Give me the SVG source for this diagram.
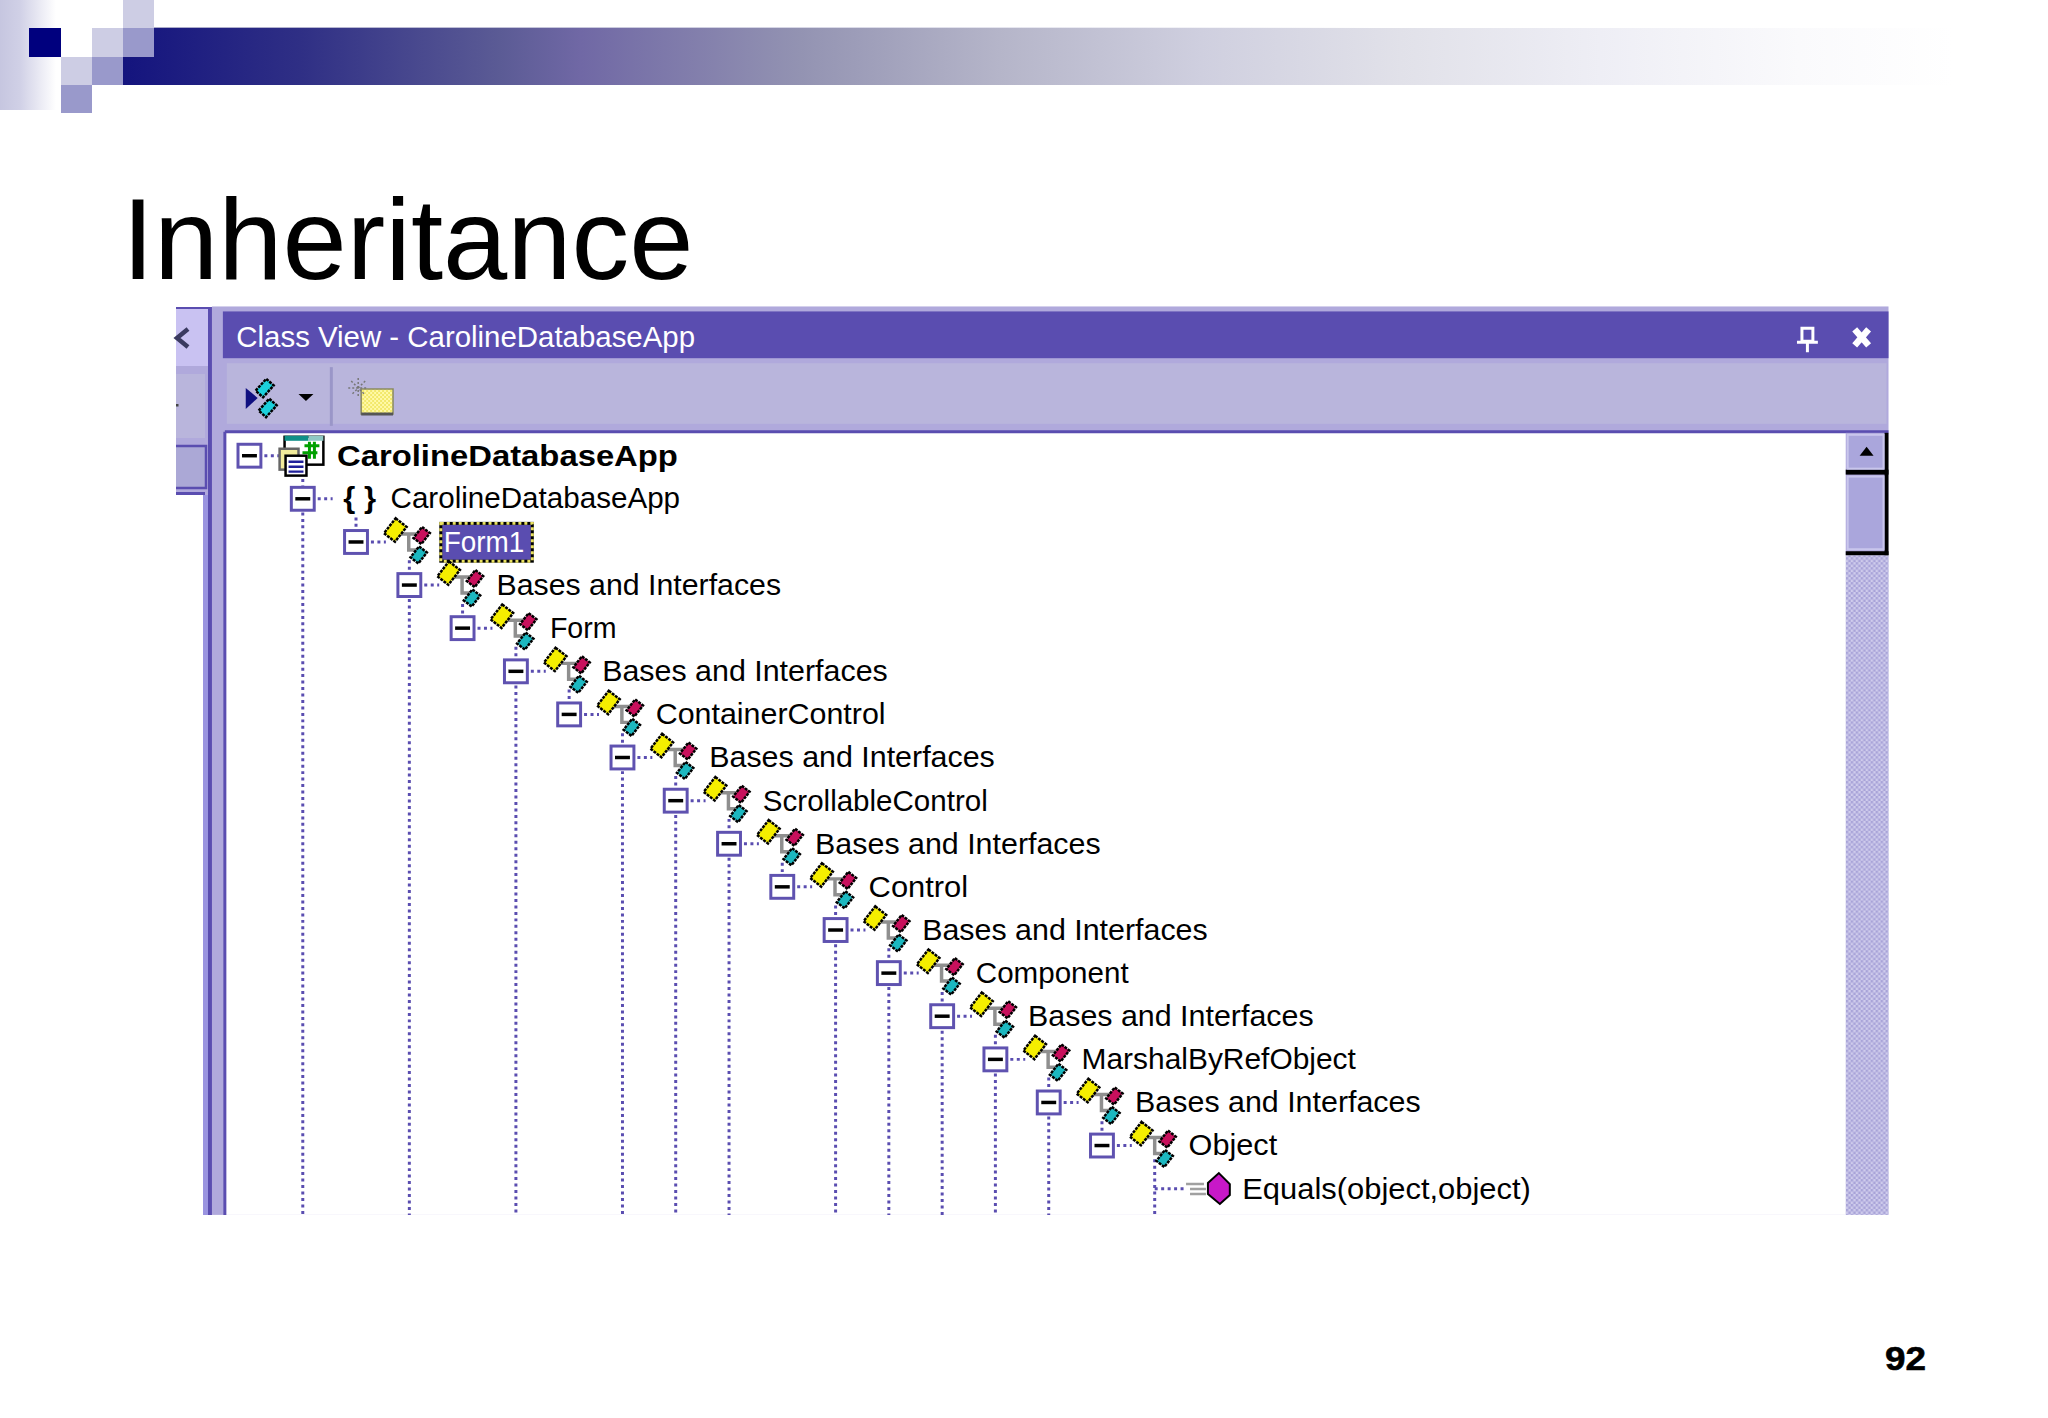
<svg xmlns="http://www.w3.org/2000/svg" width="2048" height="1418" viewBox="0 0 2048 1418">
<style>
.t{font-family:"Liberation Sans",Arial,sans-serif;font-size:30px;fill:#000}
.dot{fill:none;stroke:#5a4db0;stroke-width:3;stroke-dasharray:3 3.500}
.g{fill:none;stroke:#8f8f8f;stroke-width:3.500}
</style>
<defs>
<linearGradient id="barG" x1="0" x2="1" y1="0" y2="0">
<stop offset="0" stop-color="#14147e"/><stop offset=".097" stop-color="#2f2f85"/><stop offset=".206" stop-color="#5b5b95"/><stop offset=".25" stop-color="#7068a5"/><stop offset=".37" stop-color="#9393b2"/><stop offset=".479" stop-color="#b5b5c9"/><stop offset=".589" stop-color="#cfcfdf"/><stop offset=".698" stop-color="#e1e1e9"/><stop offset=".807" stop-color="#eeeef5"/><stop offset=".916" stop-color="#fafafc"/><stop offset="1" stop-color="#fff"/>
</linearGradient>
<linearGradient id="topG" x1="0" x2="1" y1="0" y2="0">
<stop offset="0" stop-color="#a8a8c8"/><stop offset="1" stop-color="#fff"/>
</linearGradient>
<linearGradient id="leftG" x1="0" x2="1" y1="0" y2="0">
<stop offset="0" stop-color="#c6c6e0"/><stop offset=".35" stop-color="#d0d0e6"/><stop offset="1" stop-color="#fff"/>
</linearGradient>
<pattern id="chk" width="5" height="5" patternUnits="userSpaceOnUse">
<rect width="5" height="5" fill="#cfccec"/><rect width="2.500" height="2.500" fill="#a8a3d8"/><rect x="2.500" y="2.500" width="2.500" height="2.500" fill="#a8a3d8"/>
</pattern>
<pattern id="fol" width="4" height="4" patternUnits="userSpaceOnUse">
<rect width="4" height="4" fill="#fff9a8"/><rect width="2" height="2" fill="#f2e86a"/><rect x="2" y="2" width="2" height="2" fill="#f2e86a"/>
</pattern>
<g id="exp">
<rect x="-11.500" y="-11.500" width="23" height="23" fill="#fff" stroke="#5f52b0" stroke-width="3"/>
<path d="M-7.500 0H7.500" stroke="#000" stroke-width="3.500"/>
<path d="M15 0H30" class="dot"/>
</g>
<g id="cls">
<path d="M40-8H66M53-8V8H62" class="g"/>
<g stroke="#000" stroke-width="2.500" stroke-dasharray="3 1">
<rect x="-7" y="-9.500" width="14" height="19" fill="#f5ee00" transform="translate(39.500 -12) rotate(38)"/>
<rect x="-5" y="-7" width="10" height="14" fill="#c8105c" transform="translate(66 -6.500) rotate(38)"/>
<rect x="-5" y="-7" width="10" height="14" fill="#1cb8c0" transform="translate(63 13) rotate(38)"/>
</g>
</g>
<g id="item"><use href="#exp"/><use href="#cls"/></g>
<g id="tdia"><rect x="-5" y="-8" width="10" height="16" fill="#1cd0dc" stroke="#000" stroke-width="2.500" stroke-dasharray="3 1" transform="rotate(42)"/></g>
</defs>

<rect width="2048" height="1418" fill="#fff"/>

<g id="header-art">
<rect x="0" y="0" width="56" height="110" fill="url(#leftG)"/>
<rect x="123" y="27" width="1250" height="1" fill="url(#topG)"/>
<rect x="123" y="28" width="1830" height="57" fill="url(#barG)"/>
<rect x="29" y="28" width="32" height="29" fill="#00007e"/>
<rect x="61" y="28" width="31" height="29" fill="#fff"/>
<rect x="92" y="28" width="31" height="29" fill="#cdcde4"/>
<rect x="123" y="0" width="31" height="28" fill="#cdcde4"/>
<rect x="123" y="28" width="31" height="29" fill="#9999cb"/>
<rect x="61" y="57" width="31" height="28" fill="#cdcde4"/>
<rect x="92" y="57" width="31" height="28" fill="#9999cb"/>
<rect x="61" y="85" width="31" height="28" fill="#9999cb"/>
</g>

<text id="title" x="122" y="279" font-family="'Liberation Sans',Arial,sans-serif" font-size="115.500" fill="#000">Inheritance</text>

<g id="side-strip">
<rect x="176" y="307" width="36" height="908" fill="#b0a9dc"/>
<rect x="176" y="309" width="32" height="57" fill="#c9c2f2"/>
<rect x="176" y="374" width="29" height="64" fill="#b9b5dc"/>
<path d="M176 446H206V488H176" fill="#aba8d6" stroke="#5a4db0" stroke-width="2.500"/>
<rect x="176" y="492" width="29" height="3" fill="#5a4db0"/>
<rect x="176" y="495" width="27" height="725" fill="#fff"/>
<rect x="203" y="495" width="5" height="720" fill="#9a94e0"/>
<rect x="176" y="307" width="36" height="2" fill="#5a4db0"/>
<rect x="208" y="307" width="4" height="908" fill="#5a4db0"/>
<path d="M188 329L177 338L188 347" fill="none" stroke="#3a3a60" stroke-width="4.500"/>
<rect x="176" y="404" width="2.500" height="2.500" fill="#444"/>
</g>

<g id="panel" transform="scale(.995)">
<g id="window">
<rect x="213" y="308" width="1685" height="913" fill="#b0a9dc"/>
<rect x="224" y="313" width="1674" height="47" fill="#5a4db0"/>
<rect x="228" y="365" width="1668" height="61" fill="#b9b5dc"/>
<rect x="226" y="434" width="1672" height="787" fill="#fff"/>
<path d="M226 434H1898M226 434V1221" fill="none" stroke="#5a4db0" stroke-width="3"/>
<text x="237.500" y="349" class="t" style="fill:#fff" textLength="461" lengthAdjust="spacingAndGlyphs">Class View - CarolineDatabaseApp</text>
<path id="pin" d="M1811 330H1822V343H1811ZM1806 344H1827M1816.500 344V354" fill="none" stroke="#fff" stroke-width="3"/>
<path id="close" d="M1864 331L1878 347M1878 331L1864 347" fill="none" stroke="#fff" stroke-width="6.500"/>
<g id="toolbar">
<path d="M247 390L259 400L247 411Z" fill="#101080"/>
<use href="#tdia" x="266" y="390"/>
<use href="#tdia" x="269" y="410"/>
<path d="M300 396H315L307.500 403Z" fill="#000"/>
<path d="M333 369V428" stroke="#9a96c8" stroke-width="3"/>
<path d="M363 391H395V416H363Z" fill="url(#fol)" stroke="#8a8a60" stroke-width="1.500"/>
<path d="M363 416H395" stroke="#555" stroke-width="3"/>
<path d="M360 380V400M350 390H370M353 383L367 397M367 383L353 397" stroke="#777" stroke-width="1.500" stroke-dasharray="2 2"/>
</g>
<g id="scrollbar">
<rect x="1855" y="558" width="43" height="663" fill="url(#chk)"/>
<rect x="1855" y="435" width="40" height="123" fill="#b0a9dc"/>
<rect x="1894" y="435" width="4" height="123" fill="#000"/>
<rect x="1855" y="472" width="43" height="5" fill="#000"/>
<rect x="1855" y="554" width="43" height="4" fill="#000"/>
<rect x="1857" y="437" width="36" height="34" fill="#aaa6dc" stroke="#c9c6ec" stroke-width="2"/>
<path d="M1869 458H1883L1876 449Z" fill="#000"/>
<rect x="1857" y="479" width="36" height="73" fill="#aaa6dc" stroke="#c9c6ec" stroke-width="2"/>
</g>
</g>

<g id="connectors">
<path class="dot" d="M304.300 475V489M304.300 515V1221M357.800 520V532M411.400 563V576M411.400 602V1221M464.900 607V619M518.500 650V662M518.500 689V1221M572 693V706M625.600 737V749M625.600 775V1221M679.100 780V792M679.100 819V1221M732.700 823V836M732.700 862V1221M786.200 867V879M839.800 910V922M839.800 949V1221M893.300 953V966M893.300 992V1221M946.900 997V1009M946.900 1036V1221M1000.400 1040V1052M1000.400 1079V1221M1054 1083V1096M1054 1122V1221M1107.500 1127V1139M1160.500 1165V1221M1160.500 1194.700H1192"/>
</g>

<g id="row-0"><use href="#exp" x="250.700" y="458"/>
<rect x="286" y="439" width="39" height="28" fill="#fff" stroke="#000" stroke-width="2.500"/>
<rect x="286" y="438" width="24" height="5" fill="#0f8f88"/>
<rect x="310" y="438" width="15" height="5" fill="#8fc8c4"/>
<path d="M306 448H321M304 455H319M311 444V461M316 444V461" stroke="#00a000" stroke-width="3"/>
<rect x="281" y="451" width="19" height="21" fill="#f2ec9a" stroke="#666" stroke-width="2.500"/>
<rect x="287" y="458" width="21" height="20" fill="#fff" stroke="#000" stroke-width="2.500"/>
<path d="M290 464H305M290 469H305M290 474H305" stroke="#20209a" stroke-width="2.500"/>
<text x="338.700" y="468" class="t" style="font-weight:700" textLength="342.600" lengthAdjust="spacingAndGlyphs">CarolineDatabaseApp</text></g>
<g id="row-1"><use href="#exp" x="304.300" y="501.300"/>
<text x="345" y="511" class="t" style="font-weight:700" textLength="33" lengthAdjust="spacingAndGlyphs">{ }</text>
<text x="392.500" y="511" class="t" textLength="291" lengthAdjust="spacingAndGlyphs">CarolineDatabaseApp</text></g>
<g id="row-2"><use href="#item" x="357.800" y="544.700"/>
<rect x="443" y="526" width="92" height="38" fill="#5a4db0" stroke="#000" stroke-width="3"/>
<rect x="443" y="526" width="92" height="38" fill="none" stroke="#e8e060" stroke-width="3" stroke-dasharray="3 3"/>
<text x="446" y="555" class="t" style="fill:#fff" textLength="81" lengthAdjust="spacingAndGlyphs">Form1</text></g>
<g id="row-3"><use href="#item" x="411.400" y="588"/><text x="499" y="598" class="t" textLength="286" lengthAdjust="spacingAndGlyphs">Bases and Interfaces</text></g>
<g id="row-4"><use href="#item" x="464.900" y="631.300"/><text x="552.700" y="641.300" class="t" textLength="67" lengthAdjust="spacingAndGlyphs">Form</text></g>
<g id="row-5"><use href="#item" x="518.500" y="674.700"/><text x="605.200" y="684.700" class="t" textLength="287" lengthAdjust="spacingAndGlyphs">Bases and Interfaces</text></g>
<g id="row-6"><use href="#item" x="572" y="718"/><text x="659" y="728" class="t" textLength="231" lengthAdjust="spacingAndGlyphs">ContainerControl</text></g>
<g id="row-7"><use href="#item" x="625.600" y="761.300"/><text x="712.800" y="771.300" class="t" textLength="287" lengthAdjust="spacingAndGlyphs">Bases and Interfaces</text></g>
<g id="row-8"><use href="#item" x="679.100" y="804.700"/><text x="766.700" y="814.700" class="t" textLength="226" lengthAdjust="spacingAndGlyphs">ScrollableControl</text></g>
<g id="row-9"><use href="#item" x="732.700" y="848"/><text x="819.200" y="858" class="t" textLength="287" lengthAdjust="spacingAndGlyphs">Bases and Interfaces</text></g>
<g id="row-10"><use href="#item" x="786.200" y="891.300"/><text x="873" y="901.300" class="t" textLength="100" lengthAdjust="spacingAndGlyphs">Control</text></g>
<g id="row-11"><use href="#item" x="839.800" y="934.700"/><text x="926.800" y="944.700" class="t" textLength="287" lengthAdjust="spacingAndGlyphs">Bases and Interfaces</text></g>
<g id="row-12"><use href="#item" x="893.300" y="978"/><text x="980.700" y="988" class="t" textLength="153.600" lengthAdjust="spacingAndGlyphs">Component</text></g>
<g id="row-13"><use href="#item" x="946.900" y="1021.300"/><text x="1033.200" y="1031.300" class="t" textLength="287" lengthAdjust="spacingAndGlyphs">Bases and Interfaces</text></g>
<g id="row-14"><use href="#item" x="1000.400" y="1064.700"/><text x="1087" y="1074.700" class="t" textLength="275.700" lengthAdjust="spacingAndGlyphs">MarshalByRefObject</text></g>
<g id="row-15"><use href="#item" x="1054" y="1108"/><text x="1140.800" y="1118" class="t" textLength="287" lengthAdjust="spacingAndGlyphs">Bases and Interfaces</text></g>
<g id="row-16"><use href="#item" x="1107.500" y="1151.300"/><text x="1194.600" y="1161.300" class="t" textLength="89" lengthAdjust="spacingAndGlyphs">Object</text></g>
<g id="row-17">
<path d="M1192 1190H1210M1196 1195H1212M1196 1200H1212" stroke="#a0a0a0" stroke-width="2.500"/>
<path d="M1225 1179L1236 1190V1201L1226 1210L1214 1200V1189Z" fill="#c818c8" stroke="#000" stroke-width="2"/>
<text x="1248.500" y="1204.700" class="t" textLength="290" lengthAdjust="spacingAndGlyphs">Equals(object,object)</text></g>
</g>

<text id="page" x="1885" y="1369.500" font-family="'Liberation Sans',Arial,sans-serif" font-size="34" font-weight="700" fill="#000" stroke="#000" stroke-width=".6" textLength="41" lengthAdjust="spacingAndGlyphs">92</text>
</svg>
